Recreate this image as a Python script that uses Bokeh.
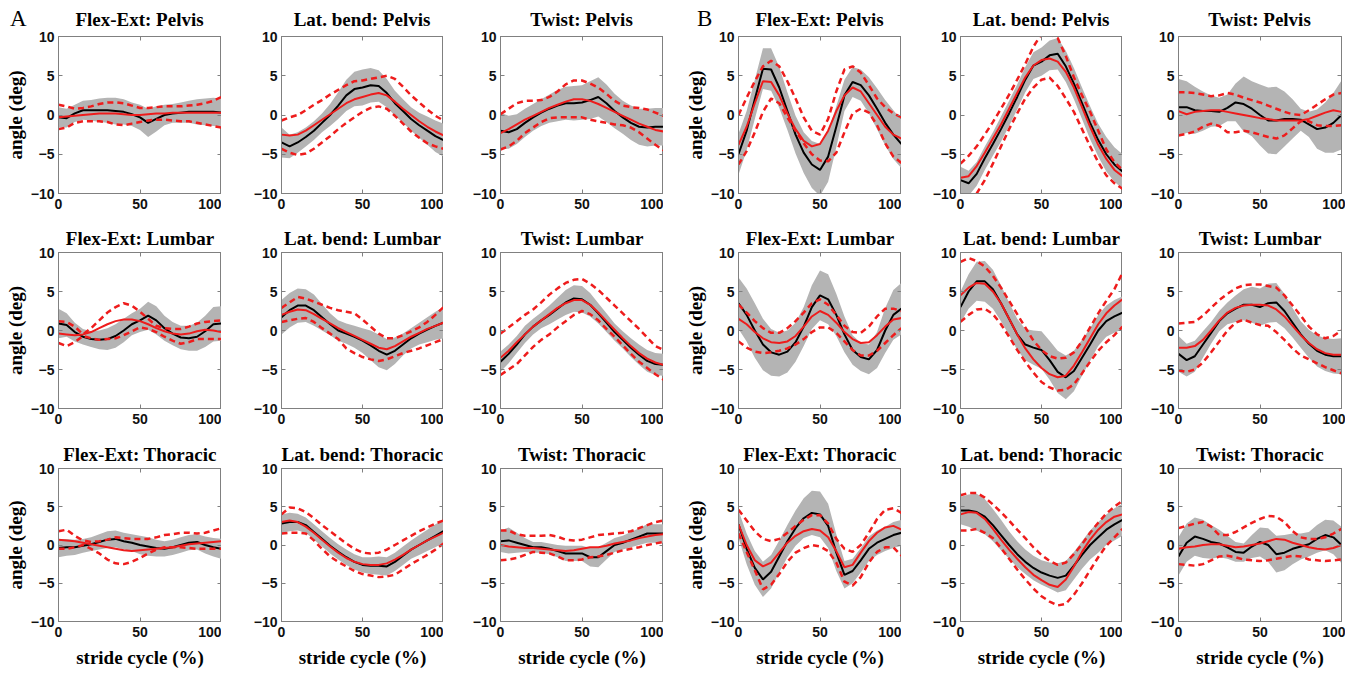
from bokeh.plotting import figure
from bokeh.models import Range1d, LinearAxis, FixedTicker, CustomJSTickFormatter, Div
from bokeh.layouts import column, row
from bokeh.embed import file_html
from bokeh.resources import INLINE

# ---------------- data (stride cycle 0..100 % in steps of 5) ----------------
stride = list(range(0, 101, 5))
x_ticks = [0, 50, 100]
y_ticks = [-10, -5, 0, 5, 10]
motions = ["Flex-Ext", "Lat. bend", "Twist"]
segments = ["Pelvis", "Lumbar", "Thoracic"]
panel_labels = ["A", "B"]

# k = black mean, ksd = grey band half width, r = red mean, ru/rl = red dashed
a_fe_pel_k = [-0.3,-0.4,0.2,0.6,0.6,0.6,0.6,0.5,0.4,0.1,-0.3,-1.0,-0.5,0.0,0.2,0.3,0.4,0.4,0.4,0.4,0.3]
a_fe_pel_ksd = [1.3,1.2,1.1,1.2,1.3,1.5,1.6,1.7,1.6,1.5,1.6,1.8,1.6,1.3,1.2,1.3,1.4,1.6,1.7,1.8,1.8]
a_fe_pel_r = [-0.3,-0.2,-0.1,0.0,0.1,0.2,0.2,0.2,0.1,0.0,0.0,0.1,0.2,0.2,0.3,0.3,0.3,0.3,0.3,0.3,0.3]
a_fe_pel_ru = [1.3,1.1,0.8,0.9,1.1,1.4,1.6,1.6,1.5,1.2,0.9,0.9,1.0,1.1,1.1,1.1,1.2,1.3,1.5,1.8,2.3]
a_fe_pel_rl = [-1.8,-1.6,-1.0,-0.8,-0.8,-0.8,-0.9,-1.2,-1.3,-1.1,-0.9,-0.7,-0.6,-0.6,-0.7,-0.8,-0.8,-1.0,-1.2,-1.4,-1.6]

a_lb_pel_k = [-3.5,-4.0,-3.5,-2.8,-2.0,-1.0,0.0,1.2,2.5,3.3,3.5,3.8,3.7,2.8,1.5,0.5,-0.5,-1.3,-2.0,-2.7,-3.2]
a_lb_pel_ksd = [1.9,1.5,1.3,1.2,1.2,1.2,1.4,1.7,2.0,2.2,2.3,2.2,2.0,1.8,1.6,1.5,1.5,1.6,1.8,2.0,2.1]
a_lb_pel_r = [-2.5,-2.6,-2.5,-2.0,-1.3,-0.6,0.1,0.8,1.5,2.0,2.3,2.6,2.8,2.5,1.7,0.8,0.0,-0.8,-1.5,-2.1,-2.6]
a_lb_pel_ru = [-0.7,-0.3,0.0,0.6,1.3,1.9,2.6,3.2,3.8,4.3,4.4,4.6,4.8,5.0,4.6,3.6,2.5,1.6,0.7,-0.1,-0.7]
a_lb_pel_rl = [-4.3,-4.8,-5.1,-4.9,-4.3,-3.5,-2.7,-1.8,-1.0,-0.3,0.4,0.9,1.1,0.8,-0.1,-1.1,-2.1,-2.9,-3.6,-4.0,-4.3]

a_tw_pel_k = [-2.0,-2.2,-1.8,-1.0,-0.3,0.3,0.8,1.2,1.5,1.5,1.6,1.9,2.3,1.5,0.5,-0.3,-1.0,-1.5,-1.6,-1.5,-1.5]
a_tw_pel_ksd = [2.3,2.1,1.9,1.8,1.7,1.7,1.8,2.0,2.1,2.2,2.2,2.4,2.5,2.4,2.2,2.1,2.2,2.3,2.4,2.4,2.4]
a_tw_pel_r = [-2.3,-1.8,-1.2,-0.6,-0.1,0.4,0.9,1.3,1.7,2.0,2.0,1.8,1.4,0.9,0.4,-0.1,-0.6,-1.1,-1.5,-1.9,-2.1]
a_tw_pel_ru = [0.1,0.8,1.5,1.8,1.8,1.9,2.3,3.0,3.9,4.4,4.4,4.0,3.5,2.7,1.8,1.2,1.0,0.9,0.7,0.3,-0.1]
a_tw_pel_rl = [-4.4,-4.0,-3.3,-2.3,-1.6,-0.9,-0.4,-0.3,-0.3,-0.3,-0.3,-0.6,-0.8,-1.0,-1.2,-1.3,-1.6,-2.2,-3.0,-3.8,-4.5]

b_fe_pel_k = [-5.0,-2.0,2.0,5.9,5.8,3.5,0.5,-2.5,-4.8,-6.3,-7.0,-5.3,-1.5,2.5,4.2,3.8,2.5,0.8,-1.0,-2.5,-3.7]
b_fe_pel_ksd = [2.6,2.5,2.5,2.6,2.7,2.6,2.4,2.4,2.6,3.0,3.3,3.2,2.6,2.0,1.9,2.0,2.3,2.6,2.9,3.1,3.1]
b_fe_pel_r = [-3.8,-1.5,1.5,4.3,4.2,2.5,0.2,-1.8,-3.3,-4.0,-3.7,-2.0,0.5,2.5,3.5,3.0,1.5,0.0,-1.5,-2.5,-3.0]
b_fe_pel_ru = [0.0,2.2,4.3,6.2,6.9,6.2,4.3,2.1,-0.3,-2.0,-2.5,-0.5,3.0,5.8,6.2,5.4,3.8,2.1,1.0,0.2,-0.3]
b_fe_pel_rl = [-6.3,-4.6,-2.2,0.4,2.1,1.5,-0.3,-2.0,-3.6,-5.0,-5.8,-5.9,-4.8,-2.2,0.2,0.8,0.3,-1.3,-3.6,-5.3,-6.1]

b_lb_pel_k = [-8.3,-8.7,-7.5,-5.5,-3.7,-1.8,0.2,2.3,4.5,6.3,6.8,7.6,7.8,6.2,4.0,1.5,-1.0,-3.2,-5.0,-6.3,-7.2]
b_lb_pel_ksd = [1.7,1.6,1.5,1.5,1.5,1.6,1.6,1.6,1.6,1.7,1.8,1.9,2.0,2.0,2.0,2.0,2.1,2.1,2.2,2.2,2.2]
b_lb_pel_r = [-8.0,-7.8,-6.5,-4.8,-3.0,-1.2,0.8,2.8,4.8,6.3,7.0,7.2,6.8,5.5,3.5,1.0,-1.5,-3.8,-5.6,-7.0,-7.8]
b_lb_pel_ru = [-6.2,-5.2,-4.0,-2.5,-0.9,0.8,2.6,4.5,6.5,8.7,10.3,10.3,9.8,7.5,4.8,2.5,0.4,-2.0,-4.4,-6.0,-7.0]
b_lb_pel_rl = [-11.5,-11.0,-10.0,-8.3,-6.2,-4.0,-1.8,0.2,2.1,3.5,4.5,4.75,3.7,2.1,0.4,-1.8,-4.0,-6.0,-7.7,-8.7,-9.4]

b_tw_pel_k = [1.0,1.0,0.6,0.5,0.5,0.4,0.9,1.6,1.4,0.8,0.0,-0.7,-0.7,-0.5,-0.5,-0.6,-1.2,-1.8,-1.6,-1.0,0.0]
b_tw_pel_ksd = [3.6,3.3,3.0,2.5,2.0,1.8,1.7,2.4,3.5,3.5,3.9,4.2,4.3,3.5,2.5,1.4,1.6,2.5,3.2,3.8,4.4]
b_tw_pel_r = [0.5,0.1,0.4,0.5,0.6,0.6,0.4,0.2,0.0,-0.2,-0.4,-0.5,-0.7,-0.7,-0.7,-0.7,-0.5,-0.1,0.3,0.6,0.4]
b_tw_pel_ru = [2.9,2.9,2.8,2.6,2.4,2.5,2.8,2.6,2.2,1.9,1.6,1.2,0.8,0.4,0.1,0.0,0.6,1.3,2.0,2.6,2.8]
b_tw_pel_rl = [-2.6,-2.4,-2.1,-1.5,-1.1,-1.4,-2.2,-2.2,-2.0,-2.2,-2.5,-2.8,-3.0,-2.6,-1.7,-0.8,-0.8,-1.3,-1.4,-1.4,-1.3]

a_fe_lum_k = [0.9,0.7,-0.2,-0.8,-1.1,-1.2,-1.1,-0.7,0.0,0.8,1.3,1.9,1.3,0.3,-0.4,-0.9,-1.0,-0.8,-0.1,0.8,0.9]
a_fe_lum_ksd = [1.9,1.5,1.2,1.0,1.0,1.2,1.4,1.5,1.5,1.4,1.5,1.8,1.8,1.6,1.5,1.5,1.6,1.8,2.0,2.2,2.2]
a_fe_lum_r = [-0.4,-0.5,-0.6,-0.5,-0.2,0.3,0.8,1.2,1.4,1.4,1.2,0.8,0.3,-0.1,-0.4,-0.5,-0.4,-0.1,0.1,0.0,-0.2]
a_fe_lum_ru = [1.2,1.1,0.5,-0.5,0.3,1.3,2.3,3.0,3.5,3.2,2.4,1.5,0.6,0.3,0.2,0.2,0.5,0.9,1.1,1.2,1.3]
a_fe_lum_rl = [-1.6,-2.0,-1.5,-0.7,-1.0,-1.2,-1.1,-1.0,-0.6,-0.1,0.4,0.2,-0.2,-0.8,-1.3,-1.7,-1.5,-1.1,-1.1,-1.1,-1.1]

a_lb_lum_k = [1.7,2.6,3.2,3.2,2.6,1.7,0.8,0.0,-0.4,-0.8,-1.3,-1.9,-2.6,-3.1,-2.6,-1.8,-1.0,-0.4,0.1,0.6,1.0]
a_lb_lum_ksd = [2.2,2.2,2.2,2.1,2.0,1.7,1.4,1.3,1.3,1.4,1.6,1.9,2.1,2.0,1.7,1.4,1.3,1.4,1.6,1.8,2.0]
a_lb_lum_r = [2.0,2.4,2.7,2.6,2.1,1.5,0.9,0.3,-0.2,-0.7,-1.2,-1.7,-2.2,-2.4,-2.0,-1.4,-0.8,-0.3,0.2,0.6,1.0]
a_lb_lum_ru = [2.9,3.6,4.3,4.1,3.7,3.3,2.9,2.6,2.4,2.2,1.4,0.5,-0.4,-1.0,-1.0,-0.6,-0.1,0.4,1.1,2.0,3.0]
a_lb_lum_rl = [1.1,1.3,1.5,1.6,1.1,0.3,-0.4,-1.1,-2.3,-2.9,-3.4,-3.7,-3.9,-3.7,-3.3,-2.9,-2.6,-2.3,-1.9,-1.5,-1.1]

a_tw_lum_k = [-4.0,-3.0,-1.8,-0.5,0.5,1.3,2.0,2.8,3.6,4.1,4.0,3.3,2.2,1.0,-0.2,-1.2,-2.2,-3.1,-3.9,-4.3,-4.4]
a_tw_lum_ksd = [1.3,1.2,1.1,1.1,1.0,1.0,1.2,1.4,1.6,1.7,1.7,1.5,1.3,1.2,1.1,1.1,1.2,1.3,1.4,1.4,1.4]
a_tw_lum_r = [-3.5,-2.6,-1.5,-0.5,0.5,1.3,2.1,2.9,3.5,3.9,3.9,3.3,2.3,1.2,0.1,-1.0,-2.0,-2.9,-3.6,-4.1,-4.4]
a_tw_lum_ru = [-0.4,0.4,1.2,2.0,2.7,3.6,4.6,5.4,6.1,6.5,6.6,6.0,5.2,4.2,3.2,2.2,1.2,0.2,-0.9,-2.0,-2.5]
a_tw_lum_rl = [-5.7,-5.0,-4.3,-3.2,-2.1,-1.2,-0.5,0.4,1.2,2.0,2.5,2.1,1.3,0.2,-0.8,-1.9,-3.0,-4.0,-4.8,-5.6,-6.3]

b_fe_lum_k = [3.5,2.0,0.0,-1.8,-2.8,-3.1,-2.7,-1.5,0.5,3.0,4.5,4.0,2.0,-0.5,-2.5,-3.4,-3.7,-2.5,0.0,2.0,2.8]
b_fe_lum_ksd = [3.3,3.4,3.5,3.3,3.0,2.8,2.7,2.5,2.5,2.8,3.2,3.2,2.7,2.3,1.9,1.8,1.9,2.3,2.9,3.2,3.3]
b_fe_lum_r = [1.5,0.8,-0.2,-1.0,-1.5,-1.6,-1.4,-0.7,0.5,1.8,2.5,2.0,1.0,-0.2,-1.1,-1.6,-1.5,-0.6,0.5,1.4,1.6]
b_fe_lum_ru = [3.3,2.3,1.2,0.3,-0.3,-0.3,0.3,1.2,2.3,3.5,4.0,3.3,2.0,0.6,-0.2,-0.3,0.5,1.8,2.8,2.8,2.5]
b_fe_lum_rl = [-1.4,-2.2,-2.7,-2.9,-2.8,-2.6,-2.3,-1.8,-1.1,-0.2,0.4,0.4,-0.3,-1.4,-2.5,-3.2,-3.2,-2.6,-1.6,-0.6,0.3]

b_lb_lum_k = [3.0,5.0,6.3,6.3,5.3,3.5,1.5,-0.5,-1.8,-2.2,-2.5,-3.8,-5.3,-6.0,-5.2,-3.5,-1.8,0.0,1.2,1.8,2.3]
b_lb_lum_ksd = [2.0,2.2,2.5,2.6,2.5,2.3,2.1,2.0,2.0,2.2,2.4,2.5,2.7,2.8,2.6,2.3,2.1,2.0,2.0,2.1,2.1]
b_lb_lum_r = [4.5,5.5,6.1,6.0,5.0,3.5,1.5,-0.5,-2.3,-3.7,-4.8,-5.6,-6.0,-5.8,-4.5,-2.8,-1.0,0.8,2.2,3.2,4.0]
b_lb_lum_ru = [8.8,9.3,8.9,8.2,7.0,5.5,3.8,2.1,0.4,-1.3,-2.5,-3.3,-3.6,-3.5,-2.8,-1.4,0.4,2.2,3.8,5.3,7.4]
b_lb_lum_rl = [1.1,2.0,2.7,2.8,2.1,0.8,-0.8,-2.5,-4.0,-5.4,-6.6,-7.3,-7.7,-7.6,-6.9,-5.5,-4.0,-2.6,-1.5,-0.6,0.5]

b_tw_lum_k = [-3.0,-3.8,-3.3,-1.8,-0.3,1.2,2.2,2.8,3.3,3.3,3.0,3.5,3.6,2.5,1.0,-0.5,-1.7,-2.6,-3.1,-3.3,-3.3]
b_tw_lum_ksd = [2.3,2.1,2.0,1.7,1.4,1.3,1.4,1.7,2.0,2.3,2.4,2.5,2.5,2.2,1.9,1.7,1.8,2.0,2.1,2.2,2.3]
b_tw_lum_r = [-2.2,-2.2,-2.0,-1.2,0.0,1.3,2.3,2.9,3.2,3.3,3.3,3.2,2.7,1.8,0.6,-0.6,-1.6,-2.4,-2.9,-3.1,-3.1]
b_tw_lum_ru = [0.9,1.0,1.1,1.9,2.9,3.9,4.7,5.4,5.8,5.9,5.9,5.7,5.5,4.5,3.2,1.9,0.5,-0.5,-1.0,-0.7,0.0]
b_tw_lum_rl = [-5.1,-5.3,-5.0,-4.1,-2.8,-1.4,0.0,1.0,1.4,1.0,0.7,0.6,-0.2,-1.2,-2.3,-3.2,-3.7,-4.2,-4.7,-5.1,-5.5]

a_fe_tho_k = [-0.4,-0.3,-0.3,-0.1,0.1,0.4,0.7,0.8,0.5,0.3,0.0,-0.2,-0.4,-0.5,-0.3,0.0,0.3,0.4,0.0,-0.3,-0.5]
a_fe_tho_ksd = [1.2,1.1,1.0,0.9,0.9,1.0,1.1,1.1,1.1,1.1,1.2,1.2,1.1,1.0,1.0,1.0,1.0,1.0,1.1,1.2,1.3]
a_fe_tho_r = [0.7,0.6,0.5,0.3,0.1,-0.1,-0.3,-0.5,-0.7,-0.8,-0.7,-0.6,-0.5,-0.4,-0.3,-0.1,0.1,0.2,0.3,0.4,0.5]
a_fe_tho_ru = [1.8,2.0,1.2,0.6,0.4,0.5,0.7,1.0,0.9,0.8,0.8,0.8,1.0,1.3,1.4,1.6,1.6,1.5,1.6,1.9,2.2]
a_fe_tho_rl = [-0.5,-0.5,-0.3,0.0,-0.5,-1.1,-1.9,-2.4,-2.5,-2.2,-1.7,-1.1,-0.6,-0.3,-0.3,-0.3,-0.4,-0.5,-0.5,-0.5,-0.5]

a_lb_tho_k = [2.8,3.0,3.0,2.6,1.7,0.8,-0.1,-0.9,-1.6,-2.2,-2.6,-2.7,-2.7,-2.8,-2.2,-1.4,-0.6,0.0,0.6,1.2,1.8]
a_lb_tho_ksd = [1.2,1.2,1.1,1.0,1.0,1.0,1.0,1.0,1.0,1.0,1.0,1.1,1.2,1.2,1.2,1.2,1.2,1.3,1.4,1.5,1.5]
a_lb_tho_r = [3.0,3.2,3.0,2.4,1.6,0.7,-0.2,-1.0,-1.7,-2.2,-2.5,-2.6,-2.6,-2.4,-1.9,-1.3,-0.6,0.0,0.6,1.1,1.6]
a_lb_tho_ru = [4.0,4.9,4.8,4.3,3.5,2.6,1.8,1.0,0.2,-0.5,-1.0,-1.1,-1.0,-0.6,0.0,0.6,1.2,1.8,2.3,2.8,3.2]
a_lb_tho_rl = [1.5,1.6,1.6,1.5,0.6,-0.5,-1.5,-2.2,-2.8,-3.4,-3.8,-4.0,-4.2,-4.1,-3.9,-3.2,-2.5,-1.9,-1.3,-0.6,0.2]

a_tw_tho_k = [0.5,0.6,0.3,0.0,-0.3,-0.3,-0.5,-0.8,-1.1,-1.1,-1.1,-1.6,-1.6,-0.8,0.0,0.3,0.7,1.1,1.5,1.5,1.5]
a_tw_tho_ksd = [1.4,1.7,1.3,0.9,0.7,0.7,0.7,0.8,1.0,1.0,1.0,1.2,1.3,1.1,0.9,0.9,1.0,1.1,1.2,1.2,1.2]
a_tw_tho_r = [0.0,-0.2,-0.3,-0.4,-0.4,-0.5,-0.6,-0.7,-0.8,-0.7,-0.5,-0.3,-0.3,-0.1,0.2,0.4,0.6,0.9,1.1,1.3,1.4]
a_tw_tho_ru = [1.9,1.9,1.4,1.2,1.2,1.2,1.3,1.1,0.7,0.6,0.7,1.0,1.3,1.4,1.5,1.6,1.8,2.2,2.6,3.0,3.2]
a_tw_tho_rl = [-2.0,-1.9,-1.7,-1.3,-0.9,-1.0,-1.1,-1.5,-2.0,-2.0,-1.9,-1.6,-1.5,-1.3,-1.0,-0.7,-0.5,-0.3,0.0,0.2,0.4]

b_fe_tho_k = [2.7,-0.5,-3.0,-4.5,-3.5,-1.5,0.5,2.2,3.5,4.2,4.0,2.5,-1.0,-3.9,-3.4,-2.0,-0.5,0.3,0.8,1.3,1.6]
b_fe_tho_ksd = [1.8,2.0,2.2,2.3,2.2,2.1,2.1,2.3,2.6,2.9,3.0,2.9,2.4,1.8,1.6,1.6,1.6,1.6,1.6,1.7,1.7]
b_fe_tho_r = [2.7,0.0,-2.0,-2.8,-2.3,-1.0,0.3,1.2,1.8,2.1,1.9,1.0,-0.8,-2.9,-2.6,-1.0,0.5,1.6,2.3,2.5,2.0]
b_fe_tho_ru = [4.6,3.2,1.8,0.8,0.5,0.8,1.6,2.5,3.3,3.9,3.9,2.8,0.8,-0.5,-0.9,0.0,1.6,3.4,4.6,4.8,4.2]
b_fe_tho_rl = [1.5,-0.9,-3.3,-5.8,-5.2,-3.8,-2.2,-1.0,-0.4,0.0,-0.2,-0.8,-2.3,-4.8,-5.3,-4.2,-2.3,-0.9,-0.3,-0.3,-1.4]

b_lb_tho_k = [4.5,4.5,4.3,3.7,2.6,1.3,0.0,-1.2,-2.2,-3.0,-3.6,-4.0,-4.3,-4.0,-2.7,-1.3,0.0,1.0,2.0,2.7,3.3]
b_lb_tho_ksd = [1.8,2.1,2.4,2.3,2.1,2.0,1.8,1.7,1.6,1.6,1.6,1.7,1.9,1.9,1.8,1.8,1.9,2.0,2.0,2.1,2.1]
b_lb_tho_r = [4.0,4.3,4.2,3.4,2.1,0.7,-0.6,-1.8,-2.9,-3.9,-4.6,-5.2,-5.5,-4.5,-2.8,-0.9,0.7,2.0,3.0,3.7,4.0]
b_lb_tho_ru = [6.5,6.8,6.8,6.2,5.3,4.3,3.2,2.0,0.9,-0.3,-1.3,-2.1,-2.6,-2.3,-1.2,0.1,1.6,2.9,4.1,5.0,5.8]
b_lb_tho_rl = [1.9,1.9,2.1,1.6,0.9,-0.4,-1.8,-3.2,-4.5,-5.7,-6.7,-7.4,-7.9,-7.7,-6.5,-5.0,-3.3,-1.6,-0.1,1.0,2.1]

b_tw_tho_k = [-1.5,0.3,1.1,0.8,0.4,0.2,-0.3,-0.9,-1.0,-0.2,0.4,0.0,-1.2,-1.0,-0.5,-0.2,0.1,0.8,1.3,1.0,0.0]
b_tw_tho_ksd = [2.5,2.5,2.5,2.5,2.2,1.8,1.5,1.3,1.2,1.5,1.9,2.2,2.4,2.3,2.0,1.7,1.6,1.8,2.0,2.2,2.4]
b_tw_tho_r = [-0.5,-0.3,-0.2,0.0,0.1,0.1,-0.1,-0.3,-0.2,0.0,0.2,0.5,0.8,0.7,0.3,0.0,-0.3,-0.5,-0.6,-0.4,0.0]
b_tw_tho_ru = [2.2,2.5,2.8,3.0,2.4,1.3,1.3,1.7,2.3,2.9,3.4,3.8,3.7,3.0,1.8,1.0,0.8,0.8,1.0,1.5,2.1]
b_tw_tho_rl = [-2.5,-2.6,-2.7,-2.5,-2.0,-1.5,-1.4,-1.6,-1.9,-2.0,-2.1,-2.0,-1.8,-1.6,-1.4,-1.5,-1.9,-2.0,-2.1,-2.0,-1.9]

G = globals()
def series(panel, mi, si):
    key = "%s_%s_%s" % (panel, ["fe", "lb", "tw"][mi], ["pel", "lum", "tho"][si])
    return [G[key + s] for s in ("_k", "_ksd", "_r", "_ru", "_rl")]

# ---------------- style ----------------
RED = "#ee1c1c"
BAND = "#b4b4b4"
FRAME = "#808080"
SERIF = "Liberation Serif"
SANS = "Liberation Sans"

# column geometry: (left border, frame width, right border)
col_geom = [(58, 163, 0), (60, 162, 0), (57, 163, 0), (75, 163, 0), (59, 162, 0), (56, 163, 4)]
# row geometry: (top border, frame height, bottom border)
row_geom = [(9, 157, 23), (36, 156, 23), (37, 153, 50)]
HEADER_H = 27
letter_left = [10, 34]
TOTAL_W = sum(a + b + c for a, b, c in col_geom)


def make_fig(panel, mi, si, ci):
    lb, fw, rb = col_geom[ci]
    tb, fh, bb = row_geom[si]
    p = figure(frame_width=fw, frame_height=fh, output_backend="svg", toolbar_location=None,
               x_range=Range1d(0, 100), y_range=Range1d(-10, 10),
               min_border_left=lb, min_border_right=rb, min_border_top=tb, min_border_bottom=bb,
               title=None if si == 0 else motions[mi] + ": " + segments[si])
    if si > 0:
        p.title.text_font = SERIF
        p.title.text_font_style = "bold"
        p.title.text_font_size = "19px"
        p.title.text_color = "black"
        p.title.align = "center"
        p.title.standoff = 8
        p.title.offset = 0
    p.grid.visible = False
    p.outline_line_color = FRAME
    p.outline_line_width = 1
    p.background_fill_color = "white"
    p.border_fill_color = "white"
    p.border_fill_alpha = 0.0

    for ax, ticks in ((p.xaxis[0], x_ticks), (p.yaxis[0], y_ticks)):
        ax.ticker = FixedTicker(ticks=ticks)
        ax.major_tick_in = 4
        ax.major_tick_out = 0
        ax.minor_tick_in = 0
        ax.minor_tick_out = 0
        ax.axis_line_color = FRAME
        ax.major_tick_line_color = FRAME
        ax.major_label_text_font = SANS
        ax.major_label_text_font_style = "bold"
        ax.major_label_text_font_size = "14px"
        ax.major_label_text_color = "#111111"
        ax.axis_label_text_font = SERIF
        ax.axis_label_text_font_style = "bold"
        ax.axis_label_text_font_size = "19px"
        ax.axis_label_text_color = "black"
        ax.axis_label_standoff = 2
    p.xaxis.major_label_standoff = 5
    p.yaxis.major_label_standoff = 4
    if ci % 3 == 0:
        p.yaxis.axis_label = "angle (deg)"
    if si == 2:
        p.xaxis.axis_label = "stride cycle (%)"
        p.xaxis.axis_label_standoff = 7

    for loc, ticks in (("above", x_ticks), ("right", y_ticks)):
        ax = LinearAxis(ticker=FixedTicker(ticks=ticks),
                        formatter=CustomJSTickFormatter(code="return ''"),
                        major_tick_in=4, major_tick_out=0, minor_tick_in=0, minor_tick_out=0,
                        axis_line_color=FRAME, major_tick_line_color=FRAME,
                        major_label_text_font_size="0px", major_label_standoff=0)
        p.add_layout(ax, loc)

    k, ksd, r, ru, rl = series(panel, mi, si)
    lo = [a - b for a, b in zip(k, ksd)]
    hi = [a + b for a, b in zip(k, ksd)]
    p.varea(x=stride, y1=lo, y2=hi, fill_color=BAND, fill_alpha=1.0)
    p.line(stride, k, line_color="black", line_width=2)
    p.line(stride, r, line_color=RED, line_width=2)
    p.line(stride, ru, line_color=RED, line_width=2.5, line_dash="6 4")
    p.line(stride, rl, line_color=RED, line_width=2.5, line_dash="6 4")
    return p


# header strip with panel letters and the first-row titles
cells = []
for ci, (lb, fw, rb) in enumerate(col_geom):
    if ci % 3 == 0:
        cells.append(
            '<div style="flex:none;position:relative;width:%dpx;height:%dpx;">'
            '<span style="position:absolute;left:%dpx;top:7px;font-size:23px;line-height:23px;">%s</span></div>'
            % (lb, HEADER_H, letter_left[ci // 3], panel_labels[ci // 3]))
    else:
        cells.append('<div style="flex:none;width:%dpx;height:%dpx;"></div>' % (lb, HEADER_H))
    cells.append(
        '<div style="flex:none;width:%dpx;height:%dpx;box-sizing:border-box;padding-top:10px;'
        'text-align:center;font-weight:bold;font-size:19px;line-height:19px;">%s</div>'
        % (fw, HEADER_H, motions[ci % 3] + ": " + segments[0]))
    if rb:
        cells.append('<div style="flex:none;width:%dpx;height:%dpx;"></div>' % (rb, HEADER_H))
header_html = ('<div style="display:flex;flex-direction:row;width:%dpx;height:%dpx;'
               "font-family:'Liberation Serif';color:#000;white-space:nowrap;overflow:visible;\">%s</div>"
               % (TOTAL_W, HEADER_H, "".join(cells)))
header = Div(text=header_html, width=TOTAL_W, height=HEADER_H, margin=0)

rows = [header]
for si in range(3):
    figs = []
    for ci in range(6):
        panel = "a" if ci < 3 else "b"
        figs.append(make_fig(panel, ci % 3, si, ci))
    rows.append(row(*figs))
layout = column(*rows)

open("out.html", "w").write(file_html(layout, INLINE))
